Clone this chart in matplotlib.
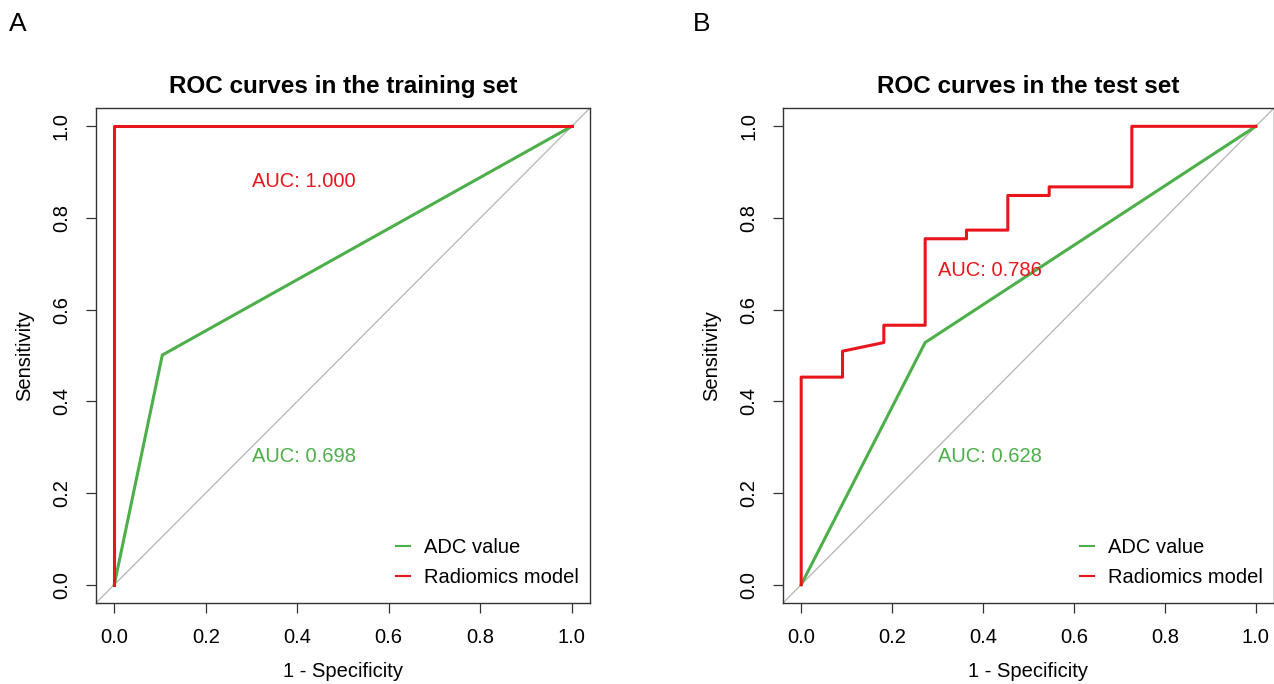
import numpy as np
import matplotlib
matplotlib.use('Agg')
from matplotlib import pyplot as plt
from matplotlib.lines import Line2D

plt.rcParams['font.family'] = ['Liberation Sans', 'DejaVu Sans']

# training set ROC points (1 - specificity, sensitivity)
train_adc_fpr = [0.0, 0.105, 1.0]
train_adc_tpr = [0.0, 0.501, 1.0]
train_rad_fpr = [0.0, 0.0, 1.0]
train_rad_tpr = [0.0, 1.0, 1.0]
train_auc = ['AUC: 0.698', 'AUC: 1.000']

# test set ROC points
test_adc_fpr = [0.0, 0.2727, 1.0]
test_adc_tpr = [0.0, 0.5283, 1.0]
test_rad_fpr = [0.0, 0.0, 0.0909, 0.0909, 0.1818, 0.1818, 0.2727, 0.2727, 0.3636, 0.3636,
                0.4545, 0.4545, 0.5455, 0.5455, 0.7273, 0.7273, 1.0]
test_rad_tpr = [0.0, 0.4528, 0.4528, 0.5094, 0.5283, 0.5660, 0.5660, 0.7547, 0.7547, 0.7736,
                0.7736, 0.8491, 0.8491, 0.8679, 0.8679, 1.0, 1.0]
test_auc = ['AUC: 0.628', 'AUC: 0.786']

titles = ['ROC curves in the training set', 'ROC curves in the test set']
panel_tags = ['A', 'B']
series_names = ['ADC value', 'Radiomics model']
ticks = [0.0, 0.2, 0.4, 0.6, 0.8, 1.0]

green = '#4daf4a'
red = '#e8161c'
fs = 14.5

fig = plt.figure(figsize=(12.74, 6.84), dpi=100)
ax1 = fig.add_axes([96 / 1274, 1 - 603 / 684, 494 / 1274, 495 / 684])
ax2 = fig.add_axes([783 / 1274, 1 - 603 / 684, 491 / 1274, 495 / 684])

curves = [
    (train_adc_fpr, train_adc_tpr, train_rad_fpr, train_rad_tpr, train_auc, 0.88),
    (test_adc_fpr, test_adc_tpr, test_rad_fpr, test_rad_tpr, test_auc, 0.685),
]

for ax, (gx, gy, rx, ry, aucs, red_y), title in zip([ax1, ax2], curves, titles):
    ax.set_xlim(-0.04, 1.04)
    ax.set_ylim(-0.04, 1.04)
    ax.plot([-0.04, 1.04], [-0.04, 1.04], color='#b4b4b4', lw=0.9, zorder=1)
    ax.plot(gx, gy, color=green, lw=2.2, zorder=2)
    ax.plot(rx, ry, color=red, lw=2.2, zorder=3)
    ax.text(0.3, 0.28, aucs[0], color=green, fontsize=fs, ha='left', va='center')
    ax.text(0.3, red_y, aucs[1], color=red, fontsize=fs, ha='left', va='center')
    ax.set_xticks(ticks)
    ax.set_yticks(ticks)
    ax.set_xticklabels(['%.1f' % t for t in ticks])
    ax.set_yticklabels(['%.1f' % t for t in ticks], rotation=90, va='center')
    ax.tick_params(length=7, width=0.9, color='#333333', labelsize=fs, pad=11)
    for s in ax.spines.values():
        s.set_color('#333333')
        s.set_linewidth(1.0)
    ax.set_xlabel('1 - Specificity', fontsize=fs, labelpad=11)
    ax.set_ylabel('Sensitivity', fontsize=fs, labelpad=13)
    ax.set_title(title, fontsize=17.5, fontweight='bold', pad=11)
    handles = [Line2D([], [], color=green, lw=1.5), Line2D([], [], color=red, lw=1.5)]
    ax.legend(handles, series_names, loc='lower right', bbox_to_anchor=(1.0, 0.01),
              frameon=False, fontsize=fs, handlelength=0.7, handletextpad=0.7,
              labelspacing=0.55, borderaxespad=0.25, borderpad=0.3)

fig.text(9 / 1274, 1 - 24 / 684, panel_tags[0], fontsize=19, ha='left', va='center')
fig.text(693 / 1274, 1 - 24 / 684, panel_tags[1], fontsize=19, ha='left', va='center')

fig.savefig('out.png', dpi=100)
